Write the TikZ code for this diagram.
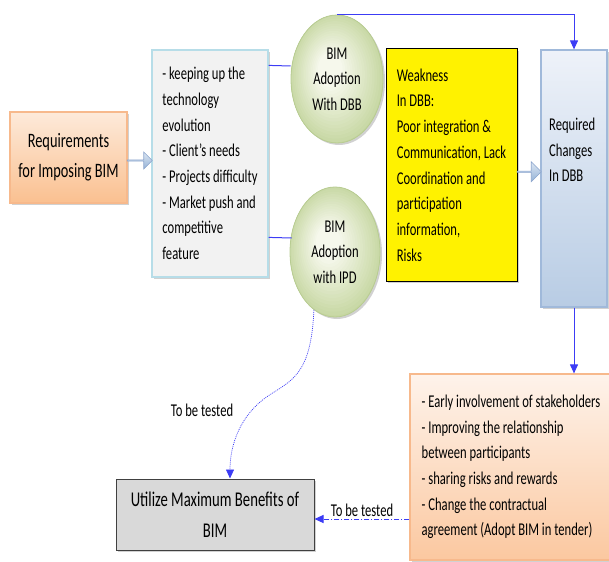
\documentclass[tikz,border=0pt]{standalone}
\usepackage{fontspec}
\setmainfont{Carlito}[FakeStretch=0.7]
\usetikzlibrary{shapes.geometric,shapes.arrows,shadows,arrows.meta,calc}
\definecolor{conn}{RGB}{60,60,245}
\definecolor{listborder}{RGB}{183,221,232}
\definecolor{listfill}{RGB}{242,242,242}
\definecolor{reqtop}{RGB}{253,234,218}
\definecolor{reqbot}{RGB}{250,192,144}
\definecolor{reqborder}{RGB}{247,185,140}
\definecolor{greenin}{RGB}{246,248,236}
\definecolor{greenout}{RGB}{196,213,158}
\definecolor{greenborder}{RGB}{184,204,146}
\definecolor{bluetop}{RGB}{238,242,249}
\definecolor{bluebot}{RGB}{184,204,228}
\definecolor{blueborder}{RGB}{160,185,218}
\definecolor{oratop}{RGB}{254,243,235}
\definecolor{orabot}{RGB}{251,200,160}
\definecolor{arrtop}{RGB}{220,230,242}
\definecolor{arrbot}{RGB}{149,179,215}
\definecolor{arrborder}{RGB}{140,165,205}
\tikzset{
  txt/.style={font=\fontsize{18}{25.7}\selectfont, align=left, inner sep=0pt},
  dshadow/.style={drop shadow={shadow xshift=2pt, shadow yshift=-2pt, opacity=0.3, fill=black!60}},
  boxbase/.style={rectangle, inner sep=0pt, line width=1.2pt, dshadow},
  bubble/.style={ellipse, inner sep=0pt, minimum width=92pt, minimum height=128pt,
    fill=greenout, draw=greenborder, line width=0.8pt, dshadow,
    path picture={
      \foreach \kk in {1,...,24}{
        \pgfmathsetmacro\ff{1-(\kk-1)/24}
        \pgfmathsetmacro\cc{min(100,(1-\ff)*100/0.75)}
        \fill[greenin!\cc!greenout] ($(path picture bounding box.center)+({-9*(1-\ff)},{-12*(1-\ff)})$)
          ellipse [x radius=\ff*50pt, y radius=\ff*70pt];
      }
    },
    font=\fontsize{18}{25.7}\selectfont, align=center},
  fatarrow/.style={single arrow, inner sep=0pt, single arrow head extend=4pt, single arrow head indent=0pt,
    top color=arrtop, bottom color=arrbot, draw=arrborder, line width=0.6pt},
  conline/.style={draw=conn, line width=1pt},
  contip/.style={-{Triangle[length=9pt,width=8pt]}},
}
\begin{document}
\begin{tikzpicture}[x=1pt,y=-1pt]
\useasboundingbox (0,0) rectangle (609,561);

% Requirements box
\node[boxbase, minimum width=117pt, minimum height=91pt, top color=reqtop, bottom color=reqbot, draw=reqborder,
  font=\fontsize{20.5}{30}\selectfont, align=center] (req) at (68.5,157.5) {Requirements\\for Imposing BIM};

% list box
\node[boxbase, minimum width=116pt, minimum height=227pt, fill=listfill, draw=listborder, txt] (list) at (210,163.5)
 {- keeping up the\\technology\\evolution\\- Client's needs\\- Projects difficulty\\- Market push and\\competitive\\feature};

% arrow req -> list
\node[fatarrow, minimum height=25pt, minimum width=17pt] (a1) at ($(req.east)!0.5!(list.west)$) {};

% bubbles
\node[bubble] (dbb) at (337,79) {BIM\\Adoption\\With DBB};
\node[bubble, minimum width=90pt, minimum height=130pt] (ipd) at (335,252) {BIM\\Adoption\\with IPD};

% yellow box
\node[rectangle, inner sep=0pt, minimum width=131pt, minimum height=232pt, fill=yellow, draw=black, line width=1pt,
  dshadow, txt] (weak) at (451.5,165)
 {Weakness\\In DBB:\\Poor integration \&\\Communication, Lack\\Coordination and\\participation\\information,\\Risks};

% required changes box
\node[boxbase, minimum width=66pt, minimum height=257pt, top color=bluetop, bottom color=bluebot, draw=blueborder] (chg) at (574,178.5) {};
\node[txt, anchor=west] (chgtxt) at (549,150) {Required\\Changes\\In DBB};

% arrow weak -> chg
\node[fatarrow, minimum height=24pt, minimum width=20pt, single arrow head extend=4.5pt] (a2) at ($(weak.east)!0.5!(chg.west)$) {};

% orange box
\node[boxbase, minimum width=202pt, minimum height=186pt, top color=oratop, bottom color=orabot, draw=reqborder, txt] (ora) at (511,467)
 {- Early involvement of stakeholders\\- Improving the relationship\\between participants\\- sharing risks and rewards\\- Change the contractual\\agreement (Adopt BIM in tender)};

% utilize box
\node[boxbase, minimum width=198pt, minimum height=71pt, fill=black!15, draw=black!75, line width=1pt,
  font=\fontsize{21}{31}\selectfont, align=center] (util) at (215,514.5) {Utilize Maximum Benefits of\\BIM};

% connectors list -> bubbles
\draw[conline] ($(list.north east)+(0,16)$) -- ($(dbb.west)+(0,-13)$);
\draw[conline] ($(list.north east)+(0,188)$) -- ($(ipd.west)+(2,-14)$);

% top connector dbb -> chg
\draw[conline, contip] (dbb.north) -- (dbb.north -| chg.north) -- (chg.north);

% chg -> ora
\draw[conline, contip] (chg.south) -- (chg.south |- ora.north);

% ora -> util dash dot
\coordinate (dd) at ($(util.east)+(0,4.5)$);
\draw[draw=conn, line width=1pt, dash pattern=on 5pt off 2pt on 1pt off 2pt, contip] (ora.west |- dd) -- (dd)
  node[midway, above=2pt, font=\fontsize{18}{25.7}\selectfont, inner sep=0pt] (lab2) {To be tested};

% ipd -> util dotted curve
\draw[draw=conn, line width=0.7pt, dash pattern=on 1pt off 1pt, contip] (ipd.250) .. controls (311,375) and (292,380) .. (268,396)
  .. controls (240,415) and (230,445) .. ($(util.north)+(15,0)$);
\node[font=\fontsize{18}{25.7}\selectfont, inner sep=0pt] (lab1) at (202,410) {To be tested};
\end{tikzpicture}
\end{document}
